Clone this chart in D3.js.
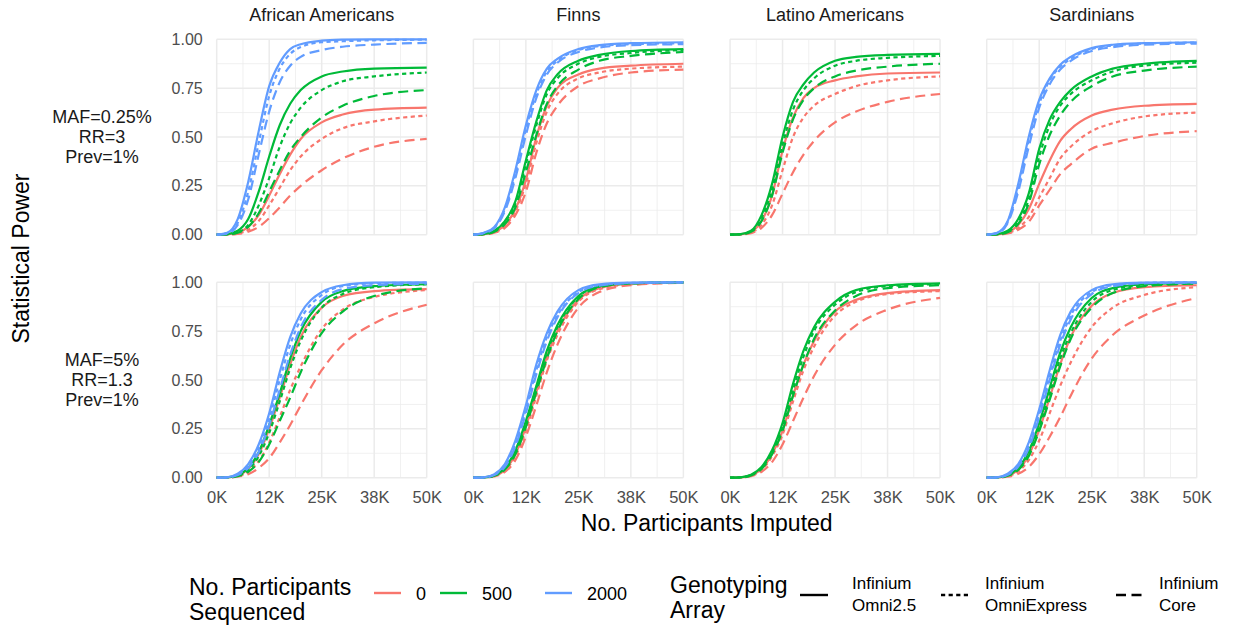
<!DOCTYPE html>
<html>
<head>
<meta charset="utf-8">
<script src="https://cdn.jsdelivr.net/npm/d3@7"></script>
<style>
  html, body { margin: 0; padding: 0; background: #ffffff; }
  svg { display: block; font-family: "Liberation Sans", Arial, Helvetica, sans-serif; }
</style>
</head>
<body>
<svg id="chart" width="1234" height="626"></svg>
<script>
// ---- data -------------------------------------------------------------
// participants imputed (thousands) at which power is tabulated
const participantsK = [0, 2.5, 5, 7.5, 10, 12.5, 15, 17.5, 20, 25, 30, 37.5, 50];

const populations = ["African Americans", "Finns", "Latino Americans", "Sardinians"];
const scenarios = [
  ["MAF=0.25%", "RR=3", "Prev=1%"],
  ["MAF=5%", "RR=1.3", "Prev=1%"]
];
const sequencedLevels = ["0", "500", "2000"];
const arrayLevels = [["Infinium", "Omni2.5"], ["Infinium", "OmniExpress"], ["Infinium", "Core"]];
const xTickValues = [0, 12500, 25000, 37500, 50000];
const xTickLabels = ["0K", "12K", "25K", "38K", "50K"];
const yTickValues = [0, 0.25, 0.5, 0.75, 1];
const yTickLabels = ["0.00", "0.25", "0.50", "0.75", "1.00"];

// power curves: rows = sequenced 0 / 500 / 2000, each with Omni2.5, OmniExpress, Core
const afrAmRare = [
  [0, 0.002, 0.010, 0.040, 0.10, 0.20, 0.31, 0.41, 0.49, 0.575, 0.615, 0.64, 0.65],
  [0, 0.001, 0.006, 0.025, 0.07, 0.15, 0.24, 0.33, 0.40, 0.49, 0.545, 0.58, 0.61],
  [0, 0.001, 0.004, 0.015, 0.04, 0.085, 0.14, 0.20, 0.25, 0.33, 0.39, 0.45, 0.49],
  [0, 0.003, 0.020, 0.080, 0.22, 0.40, 0.56, 0.67, 0.74, 0.81, 0.835, 0.85, 0.855],
  [0, 0.002, 0.012, 0.050, 0.15, 0.29, 0.45, 0.57, 0.65, 0.74, 0.785, 0.81, 0.83],
  [0, 0.002, 0.010, 0.040, 0.11, 0.22, 0.33, 0.43, 0.50, 0.60, 0.66, 0.71, 0.74],
  [0, 0.010, 0.080, 0.270, 0.53, 0.76, 0.88, 0.95, 0.975, 0.993, 0.998, 1.0, 1.0],
  [0, 0.008, 0.060, 0.220, 0.47, 0.71, 0.85, 0.925, 0.96, 0.985, 0.99, 0.995, 0.998],
  [0, 0.005, 0.050, 0.180, 0.41, 0.63, 0.78, 0.865, 0.91, 0.945, 0.962, 0.973, 0.982]
];
const finnsRare = [
  [0, 0.003, 0.015, 0.050, 0.13, 0.28, 0.50, 0.66, 0.75, 0.82, 0.85, 0.865, 0.875],
  [0, 0.002, 0.012, 0.045, 0.12, 0.26, 0.47, 0.63, 0.72, 0.80, 0.83, 0.85, 0.86],
  [0, 0.002, 0.010, 0.035, 0.10, 0.22, 0.42, 0.57, 0.66, 0.76, 0.80, 0.83, 0.845],
  [0, 0.004, 0.020, 0.070, 0.17, 0.38, 0.58, 0.74, 0.82, 0.89, 0.92, 0.94, 0.95],
  [0, 0.003, 0.018, 0.065, 0.16, 0.36, 0.56, 0.72, 0.80, 0.875, 0.91, 0.93, 0.945],
  [0, 0.003, 0.015, 0.055, 0.14, 0.32, 0.51, 0.67, 0.76, 0.845, 0.89, 0.915, 0.935],
  [0, 0.010, 0.040, 0.140, 0.33, 0.56, 0.74, 0.85, 0.90, 0.95, 0.97, 0.98, 0.985],
  [0, 0.009, 0.037, 0.130, 0.31, 0.54, 0.72, 0.835, 0.89, 0.945, 0.965, 0.975, 0.98],
  [0, 0.008, 0.033, 0.120, 0.29, 0.51, 0.70, 0.82, 0.88, 0.935, 0.958, 0.97, 0.975]
];
const latinoRare = [
  [0, 0.002, 0.015, 0.070, 0.20, 0.43, 0.60, 0.70, 0.75, 0.79, 0.81, 0.825, 0.83],
  [0, 0.002, 0.012, 0.050, 0.15, 0.33, 0.50, 0.60, 0.66, 0.72, 0.76, 0.79, 0.81],
  [0, 0.001, 0.008, 0.035, 0.10, 0.21, 0.32, 0.41, 0.48, 0.575, 0.63, 0.68, 0.72],
  [0, 0.003, 0.020, 0.100, 0.26, 0.50, 0.68, 0.77, 0.83, 0.89, 0.91, 0.92, 0.925],
  [0, 0.002, 0.017, 0.085, 0.23, 0.46, 0.64, 0.74, 0.80, 0.865, 0.89, 0.905, 0.915],
  [0, 0.002, 0.015, 0.070, 0.20, 0.42, 0.59, 0.69, 0.75, 0.81, 0.84, 0.86, 0.875],
  null, null, null
];
const sardiniansRare = [
  [0, 0.002, 0.012, 0.050, 0.13, 0.26, 0.38, 0.48, 0.54, 0.61, 0.64, 0.66, 0.67],
  [0, 0.001, 0.008, 0.035, 0.09, 0.19, 0.29, 0.39, 0.45, 0.53, 0.57, 0.605, 0.625],
  [0, 0.001, 0.006, 0.025, 0.065, 0.15, 0.23, 0.31, 0.36, 0.44, 0.47, 0.505, 0.53],
  [0, 0.003, 0.020, 0.080, 0.21, 0.44, 0.59, 0.68, 0.74, 0.81, 0.85, 0.875, 0.89],
  [0, 0.002, 0.016, 0.065, 0.18, 0.40, 0.56, 0.66, 0.72, 0.79, 0.835, 0.865, 0.88],
  [0, 0.002, 0.013, 0.055, 0.16, 0.36, 0.51, 0.61, 0.68, 0.76, 0.81, 0.84, 0.86],
  [0, 0.010, 0.070, 0.260, 0.50, 0.69, 0.80, 0.87, 0.91, 0.955, 0.972, 0.98, 0.985],
  [0, 0.009, 0.065, 0.240, 0.48, 0.67, 0.79, 0.86, 0.90, 0.95, 0.968, 0.978, 0.983],
  [0, 0.008, 0.060, 0.220, 0.45, 0.65, 0.77, 0.845, 0.89, 0.94, 0.96, 0.972, 0.978]
];
const afrAmCommon = [
  [0, 0.0015, 0.011, 0.045, 0.12, 0.25, 0.41, 0.58, 0.72, 0.87, 0.93, 0.955, 0.965],
  [0, 0.001, 0.008, 0.030, 0.085, 0.18, 0.31, 0.45, 0.57, 0.76, 0.86, 0.925, 0.96],
  [0, 0.001, 0.005, 0.018, 0.05, 0.10, 0.18, 0.27, 0.37, 0.55, 0.68, 0.79, 0.885],
  [0, 0.002, 0.013, 0.050, 0.13, 0.27, 0.43, 0.61, 0.75, 0.90, 0.955, 0.98, 0.99],
  [0, 0.0015, 0.010, 0.040, 0.11, 0.23, 0.39, 0.56, 0.70, 0.87, 0.94, 0.975, 0.99],
  [0, 0.001, 0.008, 0.030, 0.08, 0.17, 0.29, 0.41, 0.54, 0.74, 0.85, 0.93, 0.97],
  [0, 0.002, 0.020, 0.070, 0.17, 0.33, 0.54, 0.72, 0.84, 0.95, 0.985, 0.998, 1.0],
  [0, 0.002, 0.017, 0.060, 0.15, 0.30, 0.50, 0.68, 0.81, 0.935, 0.98, 0.995, 0.998],
  [0, 0.0015, 0.014, 0.050, 0.13, 0.27, 0.45, 0.63, 0.77, 0.91, 0.965, 0.985, 0.993]
];
const finnsCommon = [
  [0, 0.0012, 0.010, 0.040, 0.12, 0.26, 0.44, 0.62, 0.75, 0.91, 0.97, 0.993, 0.999],
  [0, 0.001, 0.009, 0.037, 0.11, 0.24, 0.42, 0.60, 0.73, 0.90, 0.965, 0.99, 0.999],
  [0, 0.001, 0.007, 0.030, 0.09, 0.21, 0.37, 0.54, 0.68, 0.87, 0.95, 0.985, 0.998],
  [0, 0.0015, 0.012, 0.050, 0.14, 0.29, 0.47, 0.65, 0.78, 0.93, 0.98, 0.996, 1.0],
  [0, 0.0013, 0.011, 0.046, 0.13, 0.28, 0.46, 0.64, 0.77, 0.925, 0.978, 0.995, 1.0],
  [0, 0.0012, 0.010, 0.042, 0.12, 0.26, 0.44, 0.61, 0.75, 0.915, 0.975, 0.994, 1.0],
  [0, 0.002, 0.018, 0.070, 0.19, 0.37, 0.58, 0.74, 0.85, 0.96, 0.99, 0.998, 1.0],
  [0, 0.002, 0.016, 0.063, 0.175, 0.35, 0.55, 0.72, 0.83, 0.95, 0.985, 0.997, 1.0],
  [0, 0.0015, 0.014, 0.055, 0.16, 0.33, 0.53, 0.70, 0.82, 0.945, 0.983, 0.996, 1.0]
];
const latinoCommon = [
  [0, 0.0015, 0.012, 0.045, 0.12, 0.24, 0.42, 0.58, 0.70, 0.85, 0.91, 0.945, 0.96],
  [0, 0.0013, 0.010, 0.040, 0.11, 0.22, 0.39, 0.55, 0.67, 0.83, 0.90, 0.94, 0.955],
  [0, 0.001, 0.008, 0.030, 0.08, 0.17, 0.29, 0.41, 0.52, 0.68, 0.78, 0.86, 0.92],
  [0, 0.002, 0.015, 0.055, 0.14, 0.28, 0.48, 0.65, 0.77, 0.90, 0.96, 0.985, 0.995],
  [0, 0.0018, 0.013, 0.050, 0.13, 0.26, 0.45, 0.62, 0.75, 0.885, 0.95, 0.98, 0.99],
  [0, 0.0015, 0.012, 0.045, 0.12, 0.24, 0.42, 0.58, 0.71, 0.855, 0.93, 0.97, 0.985],
  null, null, null
];
const sardiniansCommon = [
  [0, 0.0012, 0.010, 0.040, 0.115, 0.245, 0.41, 0.58, 0.72, 0.88, 0.945, 0.975, 0.985],
  [0, 0.001, 0.008, 0.032, 0.09, 0.19, 0.33, 0.47, 0.59, 0.77, 0.87, 0.935, 0.975],
  [0, 0.001, 0.005, 0.020, 0.055, 0.12, 0.21, 0.31, 0.42, 0.61, 0.73, 0.83, 0.92],
  [0, 0.0015, 0.013, 0.050, 0.135, 0.28, 0.46, 0.64, 0.77, 0.92, 0.97, 0.99, 0.997],
  [0, 0.0013, 0.011, 0.045, 0.125, 0.26, 0.43, 0.61, 0.74, 0.90, 0.96, 0.985, 0.995],
  [0, 0.0012, 0.010, 0.040, 0.11, 0.24, 0.40, 0.57, 0.71, 0.87, 0.945, 0.98, 0.993],
  [0, 0.002, 0.020, 0.070, 0.18, 0.35, 0.55, 0.73, 0.85, 0.96, 0.99, 0.998, 1.0],
  [0, 0.002, 0.018, 0.065, 0.165, 0.33, 0.52, 0.70, 0.83, 0.95, 0.985, 0.997, 1.0],
  [0, 0.0016, 0.015, 0.057, 0.15, 0.31, 0.50, 0.68, 0.81, 0.94, 0.98, 0.995, 0.999]
];

const panelData = [
  [afrAmRare, finnsRare, latinoRare, sardiniansRare],
  [afrAmCommon, finnsCommon, latinoCommon, sardiniansCommon]
];

// ---- appearance ------------------------------------------------------
const seqColors = ["#F8766D", "#00BA38", "#619CFF"];
const dashes = [null, "4.2,3.4", "10,5.5"];
const gridColor = "#EBEBEB";

const panelLeft0 = 216.7, panelStep = 256.67, panelW = 210;
const rowTops = [39.3, 282.3], panelH = 195.4;

const svg = d3.select("#chart");

const x = d3.scaleLinear().domain([0, 50000]).range([0, panelW]);
const y = d3.scaleLinear().domain([0, 1]).range([panelH, 0]);

const line = d3.line()
  .x(d => x(d[0] * 1000))
  .y(d => y(d[1]))
  .curve(d3.curveMonotoneX);

const xMinor = [6250, 18750, 31250, 43750];
const yMinor = [0.125, 0.375, 0.625, 0.875];

panelData.forEach((row, ri) => {
  row.forEach((curves, ci) => {
    const g = svg.append("g")
      .attr("transform", `translate(${panelLeft0 + ci * panelStep},${rowTops[ri]})`);

    // grid
    g.selectAll(".gxm").data(xMinor).join("line")
      .attr("x1", d => x(d)).attr("x2", d => x(d))
      .attr("y1", 0).attr("y2", panelH)
      .attr("stroke", gridColor).attr("stroke-width", 0.75);
    g.selectAll(".gym").data(yMinor).join("line")
      .attr("y1", d => y(d)).attr("y2", d => y(d))
      .attr("x1", 0).attr("x2", panelW)
      .attr("stroke", gridColor).attr("stroke-width", 0.75);
    g.append("g").selectAll("line").data(xTickValues).join("line")
      .attr("x1", d => x(d)).attr("x2", d => x(d))
      .attr("y1", 0).attr("y2", panelH)
      .attr("stroke", gridColor).attr("stroke-width", 1.5);
    g.append("g").selectAll("line").data(yTickValues).join("line")
      .attr("y1", d => y(d)).attr("y2", d => y(d))
      .attr("x1", 0).attr("x2", panelW)
      .attr("stroke", gridColor).attr("stroke-width", 1.5);

    // power curves
    curves.forEach((vals, k) => {
      if (!vals) return;
      const s = Math.floor(k / 3), a = k % 3;
      const pts = participantsK.map((p, i) => [p, vals[i]]);
      g.append("path")
        .attr("d", line(pts))
        .attr("fill", "none")
        .attr("stroke", seqColors[s])
        .attr("stroke-width", 2.2)
        .attr("stroke-dasharray", dashes[a])
        .attr("stroke-linejoin", "round");
    });

    // axes (labels only)
    if (ci === 0) {
      const ya = g.append("g").call(
        d3.axisLeft(y).tickValues(yTickValues)
          .tickFormat((d, i) => yTickLabels[i]).tickSize(0).tickPadding(14));
      ya.select(".domain").remove();
      ya.selectAll("text").attr("fill", "#4D4D4D").style("font-size", "16px")
        .attr("font-family", null);
    }
    if (ri === 1) {
      const xa = g.append("g").attr("transform", `translate(0,${panelH})`).call(
        d3.axisBottom(x).tickValues(xTickValues)
          .tickFormat((d, i) => xTickLabels[i]).tickSize(0).tickPadding(14));
      xa.select(".domain").remove();
      xa.selectAll("text").attr("fill", "#4D4D4D").style("font-size", "16.5px")
        .attr("font-family", null);
    }
  });
});

// column strips
populations.forEach((p, ci) => {
  svg.append("text")
    .attr("x", panelLeft0 + ci * panelStep + panelW / 2)
    .attr("y", 20.5)
    .attr("text-anchor", "middle")
    .attr("fill", "#1A1A1A")
    .style("font-size", "18px")
    .text(p);
});

// row strips
scenarios.forEach((lines, ri) => {
  const cy = rowTops[ri] + panelH / 2;
  lines.forEach((t, j) => {
    svg.append("text")
      .attr("x", 102)
      .attr("y", cy + (j - 1) * 20 + 6.4)
      .attr("text-anchor", "middle")
      .attr("fill", "#1A1A1A")
      .style("font-size", "18px")
      .text(t);
  });
});

// axis titles
svg.append("text")
  .attr("transform", `translate(29,${(rowTops[0] + rowTops[1] + panelH) / 2}) rotate(-90)`)
  .attr("text-anchor", "middle")
  .attr("fill", "#000")
  .style("font-size", "23px")
  .text("Statistical Power");

svg.append("text")
  .attr("x", panelLeft0 + (3 * panelStep + panelW) / 2)
  .attr("y", 531)
  .attr("text-anchor", "middle")
  .attr("fill", "#000")
  .style("font-size", "23px")
  .text("No. Participants Imputed");

// ---- legends ---------------------------------------------------------
const lg = svg.append("g");
const keyY = 593;

lg.append("text").attr("x", 189).attr("y", 595).style("font-size", "23px").text("No. Participants");
lg.append("text").attr("x", 189).attr("y", 620).style("font-size", "23px").text("Sequenced");

const colorKeyX = [374, 440, 545];
sequencedLevels.forEach((lab, i) => {
  lg.append("line")
    .attr("x1", colorKeyX[i]).attr("x2", colorKeyX[i] + 27)
    .attr("y1", keyY).attr("y2", keyY)
    .attr("stroke", seqColors[i]).attr("stroke-width", 2.4);
  lg.append("text")
    .attr("x", colorKeyX[i] + 42).attr("y", keyY + 6.5)
    .attr("fill", "#000")
    .style("font-size", "18px")
    .text(lab);
});

lg.append("text").attr("x", 670).attr("y", 593).style("font-size", "23px").text("Genotyping");
lg.append("text").attr("x", 670).attr("y", 618).style("font-size", "23px").text("Array");

const typeKeyX = [800, 941, 1116];
const typeLabelX = [852, 985, 1159];
arrayLevels.forEach((lab, i) => {
  lg.append("line")
    .attr("x1", typeKeyX[i]).attr("x2", typeKeyX[i] + 28)
    .attr("y1", keyY + 2).attr("y2", keyY + 2)
    .attr("stroke", "#000").attr("stroke-width", 2.4)
    .attr("stroke-dasharray", dashes[i]);
  lab.forEach((t, j) => {
    lg.append("text")
      .attr("x", typeLabelX[i]).attr("y", 589 + j * 22)
      .attr("fill", "#000")
      .style("font-size", "17px")
      .text(t);
  });
});
</script>
</body>
</html>
